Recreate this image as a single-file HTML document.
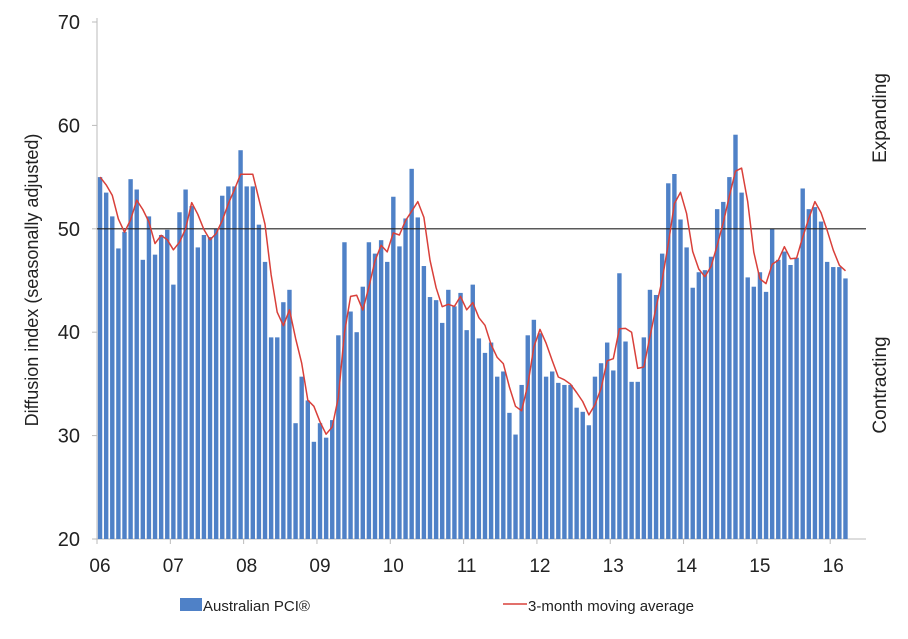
<!DOCTYPE html>
<html><head><meta charset="utf-8"><style>
body{margin:0;background:#fff;}
svg text{font-family:"Liberation Sans",sans-serif;}
</style></head><body>
<svg width="908" height="634" viewBox="0 0 908 634">
<g id="axes"></g><g id="bars"></g><g id="lines"></g><g id="labels"></g>
</svg>
<script>
const years=["06","07","08","09","10","11","12","13","14","15","16"];
const yTicks=[20,30,40,50,60,70];
const pci=[55.0,53.5,51.2,48.1,49.7,54.8,53.8,47.0,51.2,47.5,49.4,49.9,
44.6,51.6,53.8,52.2,48.2,49.4,49.2,50.0,53.2,54.1,54.1,57.6,
54.1,54.1,50.4,46.8,39.5,39.5,42.9,44.1,31.2,35.7,33.4,29.4,
31.2,29.8,31.5,39.7,48.7,42.0,40.0,44.4,48.7,47.6,48.9,46.8,
53.1,48.3,51.0,55.8,51.1,46.4,43.4,43.1,40.9,44.1,42.5,43.8,
40.2,44.6,39.4,38.0,39.0,35.7,36.2,32.2,30.1,34.9,39.7,41.2,
39.9,35.7,36.2,35.1,34.9,34.9,32.7,32.3,31.0,35.7,37.0,39.0,
36.3,45.7,39.1,35.2,35.2,39.5,44.1,43.6,47.6,54.4,55.3,50.9,
48.2,44.3,45.8,46.0,47.3,51.9,52.6,55.0,59.1,53.5,45.3,44.4,
45.8,43.9,50.0,47.0,47.8,46.5,47.2,53.9,51.9,52.1,50.7,46.8,
46.3,46.3,45.2];
const NS="http://www.w3.org/2000/svg";
const x0=97, mw=6.11, yB=539, yT=22;
function X(i){return x0+mw*(i+0.5);}
function Y(v){return yB-(v-20)*(yB-yT)/50;}
function mk(t,a,p){const e=document.createElementNS(NS,t);for(const k in a)e.setAttribute(k,a[k]);document.getElementById(p).appendChild(e);return e;}
// axes
let e=mk('line',{x1:97,y1:18,x2:97,y2:yB,stroke:'#bbb','stroke-width':1},'axes');


e=mk('line',{x1:97,y1:yB,x2:866,y2:yB,stroke:'#bbb','stroke-width':1},'axes');


yTicks.forEach(v=>{
 const t=mk('line',{x1:92,x2:97,y1:Y(v),y2:Y(v),stroke:'#bbb'},'axes');
 
 
 const l=mk('text',{x:80,y:Y(v)+7,'text-anchor':'end','font-size':20,fill:'#222'},'labels');
 l.textContent=v;
 
 
});
years.forEach((y,k)=>{
 const xx=x0+k*12*mw;
 const t=mk('line',{x1:xx,x2:xx,y1:yB,y2:yB+5,stroke:'#bbb'},'axes');
 
 
 const l=mk('text',{x:xx+3,y:572,'text-anchor':'middle','font-size':19,fill:'#222'},'labels');
 l.textContent=y;
 
 
});
pci.forEach((v,i)=>{
 const r=mk('rect',{x:X(i)-2.2,y:Y(v),width:4.4,height:yB-Y(v),fill:'#4f81c7'},'bars');
 
 
});
e=mk('line',{x1:97,x2:866,y1:Y(50),y2:Y(50),stroke:'#222','stroke-width':1.2},'lines');


let pts=[];
pci.forEach((v,i)=>{const a=pci.slice(Math.max(0,i-2),i+1);const m=a.reduce((s,q)=>s+q,0)/a.length;pts.push(X(i).toFixed(1)+','+Y(m).toFixed(1));});
e=mk('polyline',{points:pts.join(' '),fill:'none',stroke:'#d9403a','stroke-width':1.5,'stroke-linejoin':'round'},'lines');


</script>
<svg style="position:absolute;left:0;top:0" width="908" height="634">
<text transform="translate(38,280) rotate(-90)" text-anchor="middle" font-size="18" fill="#222" font-family="Liberation Sans">Diffusion index (seasonally adjusted)</text>
<text transform="translate(886,118) rotate(-90)" text-anchor="middle" font-size="19" fill="#222" font-family="Liberation Sans">Expanding</text>
<text transform="translate(886,385) rotate(-90)" text-anchor="middle" font-size="19" fill="#222" font-family="Liberation Sans">Contracting</text>
<rect x="180" y="598" width="22" height="13" fill="#4f81c7"/>
<text x="203" y="611" font-size="15" fill="#222" font-family="Liberation Sans">Australian PCI®</text>
<line x1="503" y1="604" x2="527" y2="604" stroke="#d9403a" stroke-width="1.5"/>
<text x="528" y="611" font-size="15" fill="#222" font-family="Liberation Sans">3-month moving average</text>
</svg>
</body></html>
